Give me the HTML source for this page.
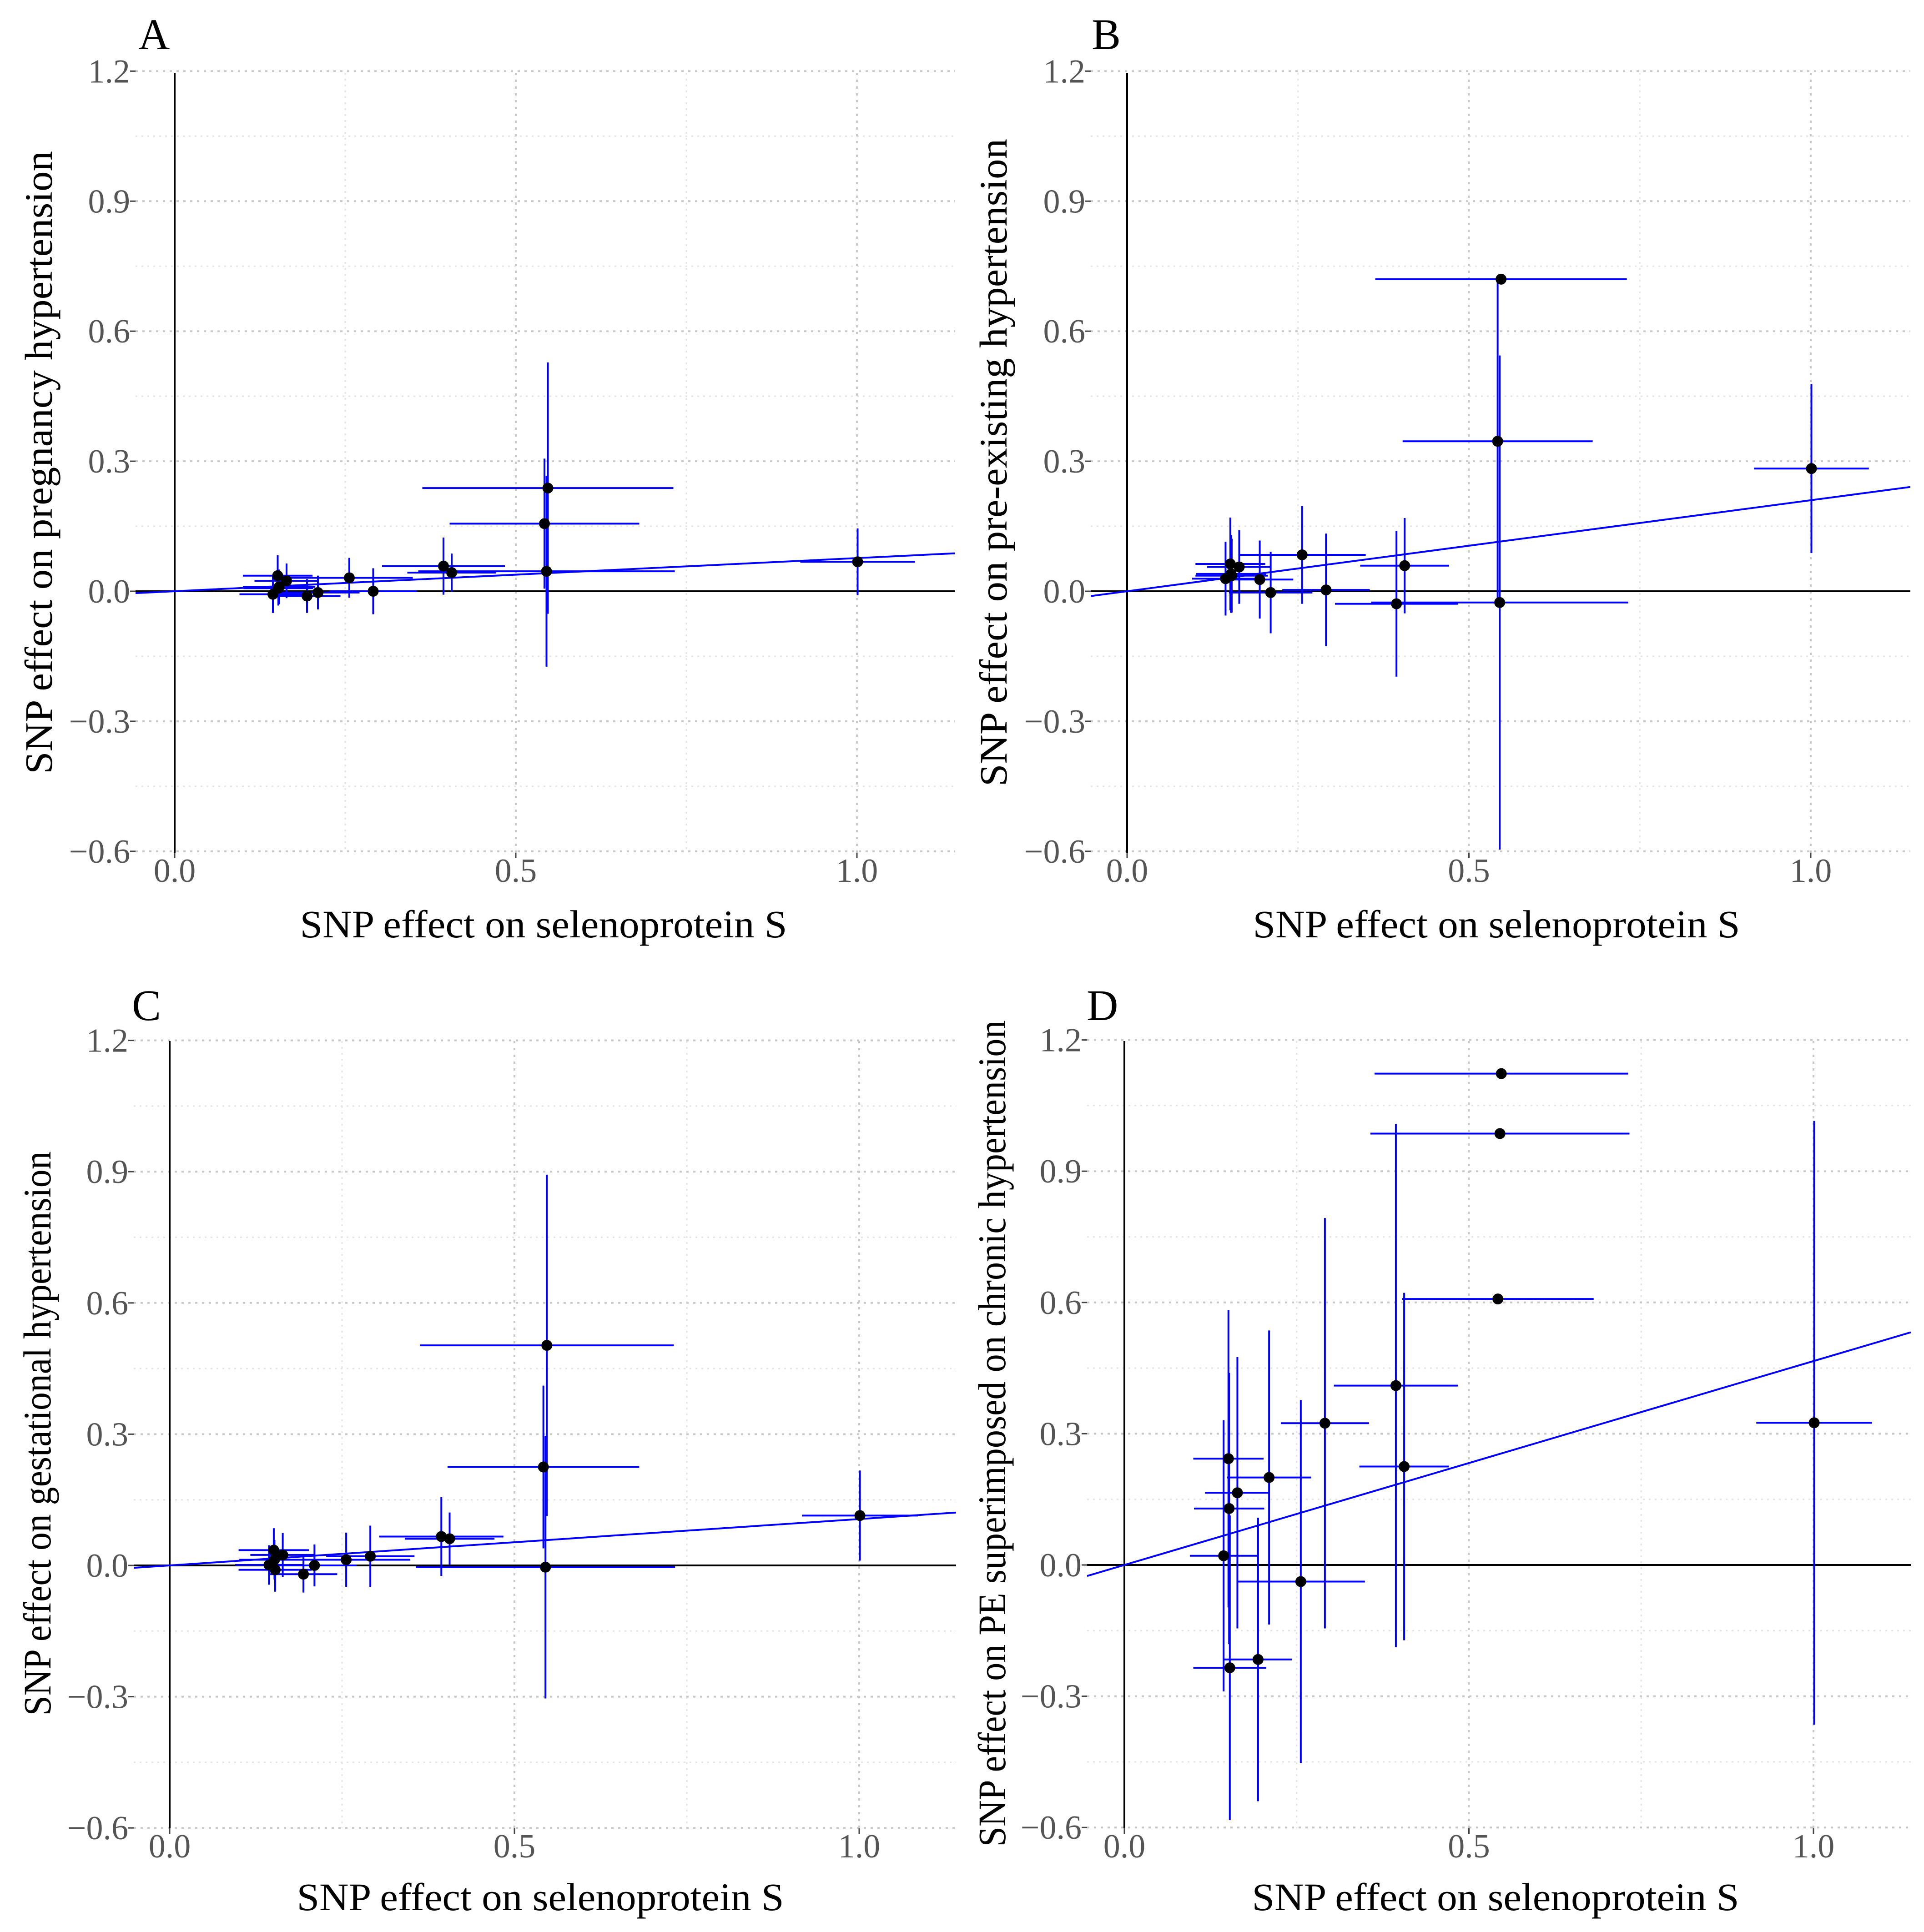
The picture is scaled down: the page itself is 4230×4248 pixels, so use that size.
<!DOCTYPE html>
<html><head><meta charset="utf-8">
<style>
html,body{margin:0;padding:0;background:#fff;}
svg{display:block;}
text{font-family:"Liberation Serif",serif;}
</style></head>
<body>
<svg id="fig" width="4230" height="4248" viewBox="0 0 4230 4248" xmlns="http://www.w3.org/2000/svg"></svg>
<script>
// Shared SNP exposure effects (x) and their error half-widths
const snpX    = [0.547, 0.545, 0.542, 0.394, 0.406, 0.291, 0.256, 0.210, 0.194, 0.164, 0.151, 0.152, 0.144, 0.153, 1.001];
const snpXErr = [0.184, 0.188, 0.139, 0.090, 0.065, 0.064, 0.093, 0.061, 0.049, 0.047, 0.051, 0.051, 0.049, 0.053, 0.084];
// Outcome effects per panel
const yA    = [0.238, 0.046, 0.156, 0.058, 0.043, 0.000, 0.031, -0.003, -0.011, 0.024, 0.036, 0.007, -0.007, 0.010, 0.068];
const yAErr = [0.290, 0.220, 0.150, 0.066, 0.044, 0.053, 0.046, 0.039, 0.039, 0.040, 0.047, 0.040, 0.043, 0.040, 0.077];
const yB    = [0.720, -0.026, 0.346, -0.029, 0.059, 0.003, 0.084, -0.003, 0.027, 0.056, 0.063, 0.040, 0.029, 0.036, 0.283];
const yBErr = [0.000, 0.570, 0.370, 0.168, 0.110, 0.130, 0.113, 0.094, 0.090, 0.085, 0.107, 0.090, 0.085, 0.085, 0.195];
const yC    = [0.503, -0.004, 0.225, 0.066, 0.061, 0.021, 0.013, 0.000, -0.020, 0.024, 0.035, 0.013, 0.001, -0.010, 0.114];
const yCErr = [0.390, 0.300, 0.186, 0.090, 0.060, 0.070, 0.062, 0.048, 0.042, 0.050, 0.050, 0.045, 0.045, 0.050, 0.103];
const yD    = [1.123, 0.986, 0.608, 0.410, 0.225, 0.324, -0.038, 0.200, -0.216, 0.165, 0.243, 0.129, 0.021, -0.235, 0.325];
const yDErr = [0.000, 0.000, 0.000, 0.598, 0.397, 0.469, 0.415, 0.336, 0.324, 0.310, 0.340, 0.310, 0.310, 0.348, 0.690];
// IVW slopes
const slopes = [0.0765, 0.21, 0.106, 0.466];
const yTicks = [-0.6, -0.3, 0.0, 0.3, 0.6, 0.9, 1.2];
const yTickLabels = ["\u22120.6", "\u22120.3", "0.0", "0.3", "0.6", "0.9", "1.2"];
const xTicks = [0.0, 0.5, 1.0];
const xTickLabels = ["0.0", "0.5", "1.0"];
const panelLetters = ["A", "B", "C", "D"];
const yTitles = ["SNP effect on pregnancy hypertension", "SNP effect on pre-existing hypertension",
                 "SNP effect on gestational hypertension", "SNP effect on PE superimposed on chronic hypertension"];

const NS = "http://www.w3.org/2000/svg";
const svg = document.getElementById("fig");
function mk(tag, attrs, parent){
  const e = document.createElementNS(NS, tag);
  for (const k in attrs) e.setAttribute(k, attrs[k]);
  (parent||svg).appendChild(e);
  return e;
}
// layout (pixel geometry)
const layouts = [
  {x0:384, xs:1500, y0:1300, ys:953, L:298, R:2099, T:160, B:1875, ytx:84, ytl:1370, lx:304, ly:108, xtc:1195, xty:2061},
  {x0:2478, xs:1503, y0:1300, ys:953, L:2398, R:4200, T:160, B:1875, ytx:2183, ytl:1424, lx:2400, ly:108, xtc:3290, xty:2061},
  {x0:373, xs:1516, y0:3442, ys:962, L:294, R:2102, T:2289, B:4020, ytx:81, ytl:1241, lx:290, ly:2243, xtc:1188, xty:4200},
  {x0:2472, xs:1515, y0:3441, ys:962, L:2390, R:4201, T:2289, B:4020, ytx:2180, ytl:1817, lx:2389, ly:2243, xtc:3288, xty:4200}
];
const yData = [yA, yB, yC, yD];
const yErrs = [yAErr, yBErr, yCErr, yDErr];

layouts.forEach((p, pi) => {
  const g = mk("g", {});
  
  
  const sx = v => p.x0 + v * p.xs;
  const sy = v => p.y0 - v * p.ys;
  const cid = "clip" + pi;
  const cp = mk("clipPath", {id: cid}, g);
  mk("rect", {x:p.L, y:p.T-40, width:p.R-p.L, height:p.B-p.T+40}, cp);
  // grid minor
  for (let i = 0; i < yTicks.length - 1; i++) {
    const v = (yTicks[i] + yTicks[i+1]) / 2;
    const l = mk("line", {x1:p.L, x2:p.R, y1:sy(v), y2:sy(v), stroke:"#e4e4e4", "stroke-width":3, "stroke-dasharray":"4 9"}, g);
    
    
  }
  [0.25, 0.75].forEach(v => {
    const l = mk("line", {x1:sx(v), x2:sx(v), y1:p.T, y2:p.B, stroke:"#e4e4e4", "stroke-width":3, "stroke-dasharray":"4 9"}, g);
    
    
  });
  // grid major
  yTicks.forEach((v, i) => {
    const l = mk("line", {x1:p.L, x2:p.R, y1:sy(v), y2:sy(v), stroke:"#c8c8c8", "stroke-width":4, "stroke-dasharray":"5 10"}, g);
    
    
    const t = mk("line", {x1:p.L-12, x2:p.L, y1:sy(v), y2:sy(v), stroke:"#444", "stroke-width":3}, g);
    
    
    const tx = mk("text", {x:p.L-12, y:sy(v)+25, "text-anchor":"end", "font-size":74, fill:"#555"}, g);
    tx.textContent = yTickLabels[i];
    
    
  });
  xTicks.forEach((v, i) => {
    if (v !== 0) {
      const l = mk("line", {x1:sx(v), x2:sx(v), y1:p.T, y2:p.B, stroke:"#c8c8c8", "stroke-width":4, "stroke-dasharray":"5 10"}, g);
      
      
    }
    const t = mk("line", {x1:sx(v), x2:sx(v), y1:p.B, y2:p.B+12, stroke:"#444", "stroke-width":3}, g);
    
    
    const tx = mk("text", {x:sx(v), y:p.B+64, "text-anchor":"middle", "font-size":74, fill:"#555"}, g);
    tx.textContent = xTickLabels[i];
    
    
  });
  // zero axes
  const va = mk("line", {x1:sx(0), x2:sx(0), y1:p.T, y2:p.B, stroke:"#000", "stroke-width":4}, g);
  
  
  const ha = mk("line", {x1:p.L, x2:p.R, y1:sy(0), y2:sy(0), stroke:"#000", "stroke-width":4}, g);
  
  
  // data
  const dg = mk("g", {"clip-path":"url(#" + cid + ")"}, g);
  const ys = yData[pi], ye = yErrs[pi];
  snpX.forEach((x, i) => {
    const h = mk("line", {x1:sx(x - snpXErr[i]), x2:sx(x + snpXErr[i]), y1:sy(ys[i]), y2:sy(ys[i]), stroke:"#0000ff", "stroke-width":4}, dg);
    
    
    if (ye[i] > 0) {
      const v = mk("line", {x1:sx(x), x2:sx(x), y1:sy(ys[i] + ye[i]), y2:sy(ys[i] - ye[i]), stroke:"#0000ff", "stroke-width":4}, dg);
      
      
    }
  });
  const xmin = (p.L - p.x0) / p.xs, xmax = (p.R - p.x0) / p.xs;
  const reg = mk("line", {x1:sx(xmin), y1:sy(xmin * slopes[pi]), x2:sx(xmax), y2:sy(xmax * slopes[pi]), stroke:"#0000ff", "stroke-width":4}, dg);
  
  
  snpX.forEach((x, i) => {
    const c = mk("circle", {cx:sx(x), cy:sy(ys[i]), r:12, fill:"#000"}, dg);
    
    
  });
  // titles
  const xt = mk("text", {x:p.xtc, y:p.xty, "text-anchor":"middle", "font-size":86, fill:"#000", textLength:1071, lengthAdjust:"spacingAndGlyphs"}, g);
  xt.textContent = "SNP effect on selenoprotein S";
  
  
  const yt = mk("text", {x:0, y:0, "text-anchor":"middle", "font-size":86, fill:"#000", textLength:p.ytl, lengthAdjust:"spacingAndGlyphs",
    transform:"translate(" + (p.ytx + 30) + "," + (pi < 2 ? 1017 : 3152) + ") rotate(-90)"}, g);
  yt.textContent = yTitles[pi];
  
  
  const lt = mk("text", {x:p.lx, y:p.ly, "font-size":96, fill:"#000"}, g);
  lt.textContent = panelLetters[pi];
  
  
});
</script>
</body></html>
